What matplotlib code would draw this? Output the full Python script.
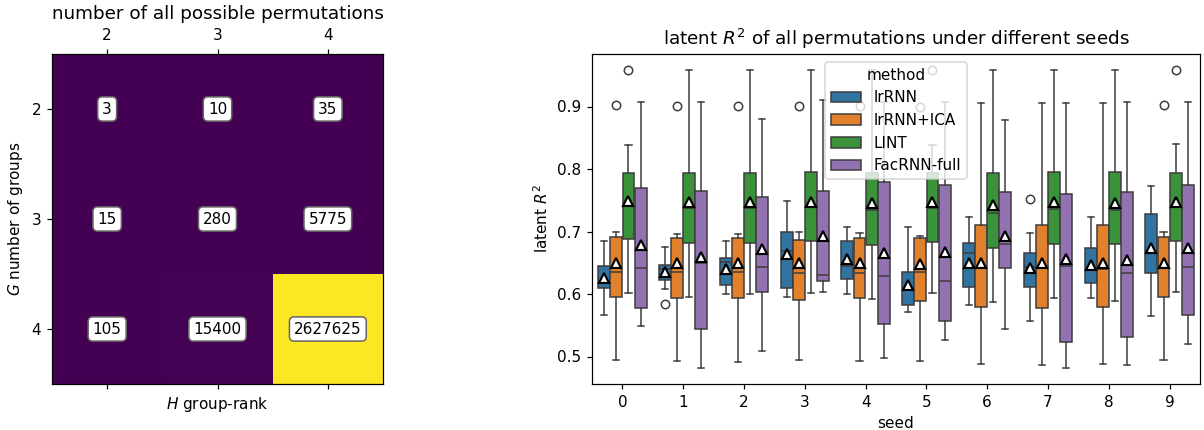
import numpy as np
import matplotlib
matplotlib.use("Agg")
import matplotlib.pyplot as plt
from matplotlib.patches import Patch

# ---------------- data ----------------
G_values = [2, 3, 4]
H_values = [2, 3, 4]
perm_counts = [[3, 10, 35],
               [15, 280, 5775],
               [105, 15400, 2627625]]

seeds = list(range(10))
methods = ["lrRNN", "lrRNN+ICA", "LINT", "FacRNN-full"]
colors = ["#3274a1", "#e1812c", "#3a923a", "#9372b2"]

lr_q1 = [0.610, 0.623, 0.614, 0.610, 0.624, 0.583, 0.612, 0.612, 0.617, 0.633]
lr_med = [0.617, 0.640, 0.651, 0.669, 0.645, 0.607, 0.665, 0.643, 0.639, 0.667]
lr_q3 = [0.645, 0.646, 0.657, 0.699, 0.684, 0.636, 0.682, 0.665, 0.673, 0.728]
lr_lo = [0.566, 0.608, 0.600, 0.596, 0.600, 0.572, 0.583, 0.556, 0.593, 0.565]
lr_hi = [0.685, 0.676, 0.684, 0.749, 0.708, 0.707, 0.723, 0.698, 0.724, 0.773]
lr_mean = [0.625, 0.635, 0.640, 0.664, 0.656, 0.615, 0.649, 0.641, 0.646, 0.673]
lr_fliers = [[], [0.584], [], [], [], [], [], [0.752], [], []]

ica_q1 = [0.595, 0.593, 0.593, 0.590, 0.593, 0.589, 0.579, 0.578, 0.579, 0.596]
ica_med = [0.635, 0.635, 0.635, 0.633, 0.634, 0.635, 0.641, 0.641, 0.640, 0.642]
ica_q3 = [0.691, 0.690, 0.689, 0.687, 0.690, 0.689, 0.710, 0.710, 0.710, 0.692]
ica_lo = [0.495, 0.493, 0.492, 0.495, 0.493, 0.493, 0.488, 0.487, 0.488, 0.494]
ica_hi = [0.699, 0.696, 0.696, 0.699, 0.698, 0.693, 0.905, 0.905, 0.905, 0.699]
ica_mean = [0.650, 0.649, 0.649, 0.649, 0.649, 0.648, 0.650, 0.650, 0.650, 0.650]
ica_fliers = [[0.903], [0.901], [0.901], [0.901], [0.901], [0.899], [], [], [], [0.903]]

lint_q1 = [0.688, 0.682, 0.681, 0.685, 0.678, 0.683, 0.674, 0.680, 0.680, 0.685]
lint_med = [0.741, 0.738, 0.738, 0.739, 0.734, 0.738, 0.729, 0.736, 0.734, 0.741]
lint_q3 = [0.794, 0.793, 0.793, 0.795, 0.794, 0.794, 0.793, 0.795, 0.795, 0.794]
lint_lo = [0.601, 0.596, 0.600, 0.601, 0.592, 0.602, 0.587, 0.593, 0.589, 0.603]
lint_hi = [0.838, 0.959, 0.958, 0.959, 0.958, 0.838, 0.958, 0.958, 0.958, 0.840]
lint_mean = [0.749, 0.747, 0.747, 0.748, 0.746, 0.748, 0.743, 0.747, 0.746, 0.748]
lint_fliers = [[0.959], [], [], [], [], [0.959], [], [], [], [0.959]]

fac_q1 = [0.577, 0.544, 0.604, 0.621, 0.552, 0.557, 0.642, 0.524, 0.531, 0.567]
fac_med = [0.642, 0.649, 0.643, 0.631, 0.629, 0.621, 0.680, 0.645, 0.633, 0.643]
fac_q3 = [0.770, 0.765, 0.755, 0.765, 0.780, 0.774, 0.763, 0.760, 0.763, 0.774]
fac_lo = [0.549, 0.482, 0.509, 0.604, 0.497, 0.527, 0.544, 0.481, 0.486, 0.520]
fac_hi = [0.907, 0.908, 0.880, 0.910, 0.908, 0.907, 0.878, 0.905, 0.908, 0.908]
fac_mean = [0.678, 0.660, 0.672, 0.693, 0.665, 0.668, 0.693, 0.656, 0.655, 0.674]
fac_fliers = [[], [], [], [], [], [], [], [], [], []]

series = [
    (lr_q1, lr_med, lr_q3, lr_lo, lr_hi, lr_mean, lr_fliers),
    (ica_q1, ica_med, ica_q3, ica_lo, ica_hi, ica_mean, ica_fliers),
    (lint_q1, lint_med, lint_q3, lint_lo, lint_hi, lint_mean, lint_fliers),
    (fac_q1, fac_med, fac_q3, fac_lo, fac_hi, fac_mean, fac_fliers),
]

# ---------------- figure ----------------
DPI = 110
fig = plt.figure(figsize=(1204 / DPI, 430 / DPI), dpi=DPI)

# heatmap
ax1 = fig.add_axes([52 / 1204, 46 / 430, 331 / 1204, 330 / 430])
arr = np.array(perm_counts, dtype=float)
ax1.imshow(arr, cmap="viridis", aspect="auto")
for i in range(len(G_values)):
    for j in range(len(H_values)):
        ax1.text(j, i, str(perm_counts[i][j]), ha="center", va="center", fontsize=10,
                 bbox=dict(boxstyle="round,pad=0.3", facecolor="white", edgecolor="0.4"))
ax1.set_xticks(range(len(H_values)))
ax1.set_xticklabels([str(h) for h in H_values])
ax1.set_yticks(range(len(G_values)))
ax1.set_yticklabels([str(g) for g in G_values])
ax1.tick_params(top=True, labeltop=True, bottom=True, labelbottom=False)
ax1.set_xlabel("$H$ group-rank")
ax1.set_ylabel("$G$ number of groups")
ax1.set_title("number of all possible permutations", fontsize=12)

# boxplot
ax2 = fig.add_axes([592 / 1204, 46 / 430, 608 / 1204, 330 / 430])
gray = (0.24, 0.24, 0.24)
lw = 1.0
n = len(methods)
bw = 0.8 / n
for k, (q1, med, q3, lo, hi, mean, fl) in enumerate(series):
    stats = []
    for s in range(len(seeds)):
        stats.append(dict(med=med[s], q1=q1[s], q3=q3[s], whislo=lo[s], whishi=hi[s],
                          mean=mean[s], fliers=fl[s]))
    pos = [s - 0.4 + bw * (k + 0.5) for s in seeds]
    ax2.bxp(stats, positions=pos, widths=bw * 0.98, capwidths=bw * 0.5,
            patch_artist=True, showmeans=True, manage_ticks=False,
            boxprops=dict(facecolor=colors[k], edgecolor=gray, linewidth=lw),
            medianprops=dict(color=gray, linewidth=lw),
            whiskerprops=dict(color=gray, linewidth=lw),
            capprops=dict(color=gray, linewidth=lw),
            flierprops=dict(marker="o", markerfacecolor="none", markeredgecolor=gray,
                            markersize=5.5, markeredgewidth=1.0),
            meanprops=dict(marker="^", markerfacecolor="white", markeredgecolor="black",
                           markersize=6, markeredgewidth=1.4))

ax2.set_xticks(seeds)
ax2.set_xticklabels([str(s) for s in seeds])
ax2.set_xlim(-0.5, len(seeds) - 0.5)
ax2.set_ylim(0.456, 0.984)
ax2.set_yticks([0.5, 0.6, 0.7, 0.8, 0.9])
ax2.set_xlabel("seed")
ax2.set_ylabel("latent $R^2$")
ax2.set_title("latent $R^2$ of all permutations under different seeds", fontsize=12)

handles = [Patch(facecolor=c, edgecolor=gray, linewidth=lw) for c in colors]
ax2.legend(handles, methods, title="method", loc="upper center", fontsize=10)

fig.savefig("out.png", dpi=DPI)
